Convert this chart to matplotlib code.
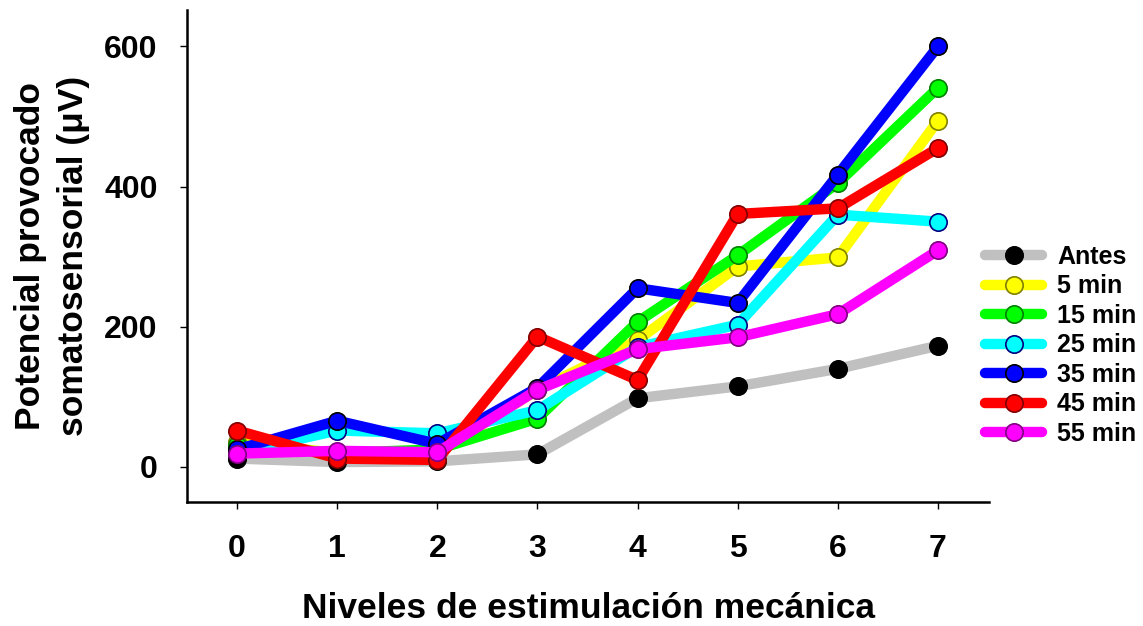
import numpy as np
import matplotlib.pyplot as plt

plt.rcParams['font.family'] = ['Liberation Sans', 'DejaVu Sans']
plt.rcParams['font.weight'] = 'bold'

niveles = [0, 1, 2, 3, 4, 5, 6, 7]
antes = [12, 7, 8, 18, 98, 115, 140, 173]
min5 = [35, 20, 20, 110, 181, 286, 299, 494]
min15 = [31, 20, 25, 69, 207, 302, 405, 541]
min25 = [20, 52, 48, 81, 171, 203, 360, 350]
min35 = [25, 66, 33, 113, 255, 234, 417, 600]
min45 = [52, 12, 10, 186, 124, 361, 369, 455]
min55 = [19, 23, 21, 110, 168, 185, 218, 309]

series = [antes, min5, min15, min25, min35, min45, min55]
etiquetas = ["Antes", "5 min", "15 min", "25 min", "35 min", "45 min", "55 min"]
colores = ["#c0c0c0", "#ffff00", "#00ff00", "#00ffff", "#0000ff", "#ff0000", "#ff00ff"]
caras = ["#000000", "#ffff00", "#00ff00", "#00ffff", "#0000ff", "#ff0000", "#ff00ff"]
bordes = ["#000000", "#808000", "#008000", "#000080", "#000000", "#800000", "#800080"]

fig = plt.figure(figsize=(11.43, 6.26), dpi=100)
ax = fig.add_axes([187/1143, 1 - 502/626, 802/1143, 492/626])

for y, lab, c, fc, ec in zip(series, etiquetas, colores, caras, bordes):
    ax.plot(niveles, y, color=c, lw=7.5, solid_capstyle='round', solid_joinstyle='miter',
            marker='o', ms=12.5, mfc=fc, mec=ec, mew=1.2, label=lab)

ax.set_xlim(-0.5, 7.51)
ax.set_ylim(-50, 652)
ax.set_xticks(niveles)
ax.set_yticks([0, 200, 400, 600])
ax.spines['top'].set_visible(False)
ax.spines['right'].set_visible(False)
ax.spines['left'].set_linewidth(1.8)
ax.spines['bottom'].set_linewidth(1.8)
ax.tick_params(axis='both', direction='out', length=5, width=1, labelsize=23)
ax.tick_params(axis='x', pad=18)
ax.tick_params(axis='y', pad=16)
for t in ax.get_xticklabels() + ax.get_yticklabels():
    t.set_fontweight('bold')

ax.set_xlabel("Niveles de estimulación mecánica", fontsize=25.5, fontweight='bold', labelpad=20)
ax.set_ylabel("Potencial provocado\nsomatosensorial (\u03bcV)", fontsize=25.5, fontweight='bold',
              linespacing=1.38)
ax.yaxis.set_label_coords(-0.121, 0.5)

leg = fig.legend(loc='upper left', bbox_to_anchor=(985/1143, 1 - 245/626), frameon=False,
                 prop={'size': 18, 'weight': 'bold'}, handlelength=2.28, handletextpad=0.6,
                 labelspacing=0.22, borderpad=0, borderaxespad=0)

fig.savefig("out.png", dpi=100)
